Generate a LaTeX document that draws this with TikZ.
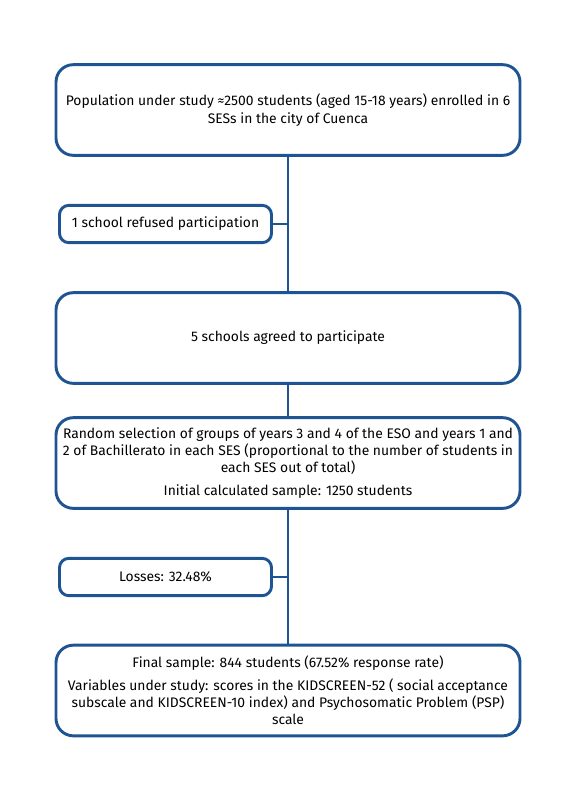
\documentclass[tikz,border=0pt]{standalone}
\usepackage{fontspec}
\setmainfont{Fira Sans}
\definecolor{flowblue}{RGB}{30,84,145}

\begin{document}
\begin{tikzpicture}[x=0.75pt,y=-0.75pt,
    mainbox/.style={draw=flowblue,line width=2.2pt,rounded corners=13pt,
      minimum width=348pt,minimum height=68pt,align=center,
      font=\fontsize{10.4}{13}\selectfont},
    sidebox/.style={draw=flowblue,line width=2.2pt,rounded corners=7pt,
      minimum width=159pt,minimum height=28pt,align=center,
      font=\fontsize{10.4}{13}\selectfont},
    link/.style={draw=flowblue,line width=2.2pt}]
      \useasboundingbox (0,0) rectangle (580,807) ;
      % main flow
      \node[mainbox] (pop) at (288,110) {Population under study ≈2500 students (aged 15-18 years) enrolled in 6\\SESs in the city of Cuenca} ;
      \node[mainbox] (agreed) at (288,338) {5 schools agreed to participate} ;
      \node[mainbox] (select) at (288,463) {Random selection of groups of years 3 and 4 of the ESO and years 1 and\\2 of Bachillerato in each SES (proportional to the number of students in\\each SES out of total)\\[4pt]Initial calculated sample: 1250 students} ;
      \node[mainbox] (final) at (288,690.5) {Final sample: 844 students (67.52\% response rate)\\[4pt]Variables under study: scores in the KIDSCREEN-52 ( social acceptance\\subscale and KIDSCREEN-10 index) and Psychosomatic Problem (PSP)\\scale} ;
      % exclusions
      \node[sidebox] (refused) at (165.5,224) {1 school refused participation} ;
      \node[sidebox] (losses) at (165.5,577) {Losses: 32.48\%} ;
      \draw[link] (pop) -- (agreed) ;
      \draw[link] (agreed) -- (select) ;
      \draw[link] (select) -- (final) ;
      \draw[link] (refused.east) -- (refused.east -| pop.south) ;
      \draw[link] (losses.east) -- (losses.east -| select.south) ;
    \end{tikzpicture}
\end{document}
